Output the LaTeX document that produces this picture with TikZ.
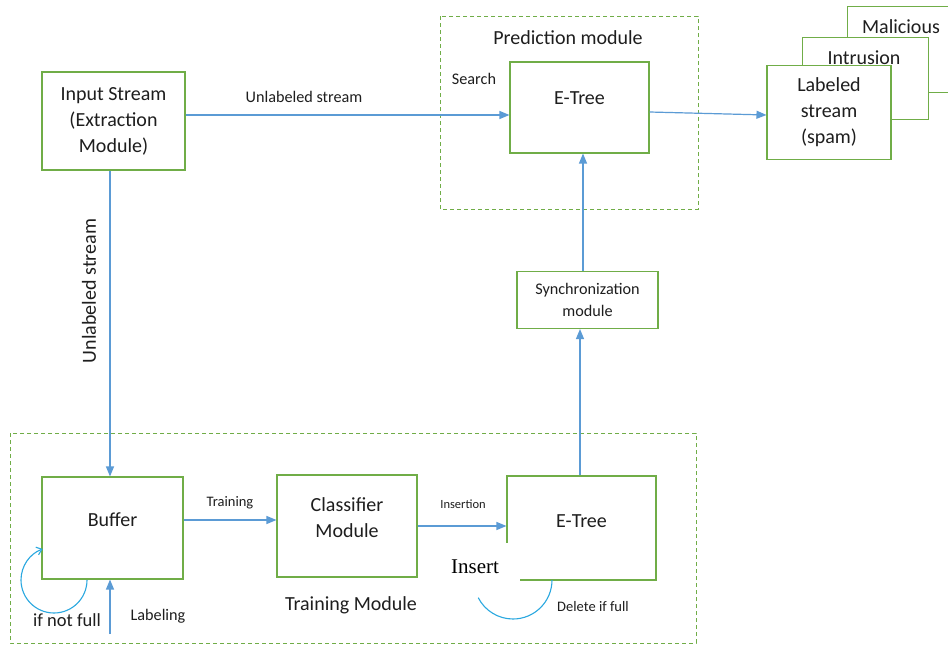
\documentclass[tikz,border=0pt]{standalone}
\usepackage{fontspec}
\setmainfont{Carlito}
\newfontfamily\serifinsert{Liberation Serif}
\usetikzlibrary{arrows.meta}
\definecolor{boxgreen}{HTML}{70AD47}
\definecolor{arrblue}{HTML}{5B9BD5}
\definecolor{loopblue}{HTML}{2AA8E0}
\definecolor{txt}{HTML}{1E1E1E}
\tikzset{
  box/.style={draw=boxgreen, line width=1.1pt, fill=white, align=center, inner sep=0pt, text=txt,
              font=\fontsize{20}{26}\selectfont},
  grp/.style={draw=boxgreen, line width=1pt, dash pattern=on 4pt off 3pt},
  arr/.style={draw=arrblue, line width=1.2pt, -{Triangle[length=10pt,width=8pt]}},
  lbl/.style={text=txt, inner sep=0pt, font=\fontsize{14.5}{18}\selectfont},
  midlbl/.style={text=txt, inner sep=0pt, font=\fontsize{16.2}{20}\selectfont},
  big/.style={text=txt, inner sep=0pt, font=\fontsize{20}{26}\selectfont},
  loopline/.style={draw=loopblue, line width=1.1pt}
}
\begin{document}
\begin{tikzpicture}[x=1pt,y=-1pt]
\useasboundingbox[fill=white] (0,0) rectangle (948,648);

% group frames
\draw[grp] (440,16) rectangle (698,209);
\draw[grp] (10,433) rectangle (696,643);
\node[big] (predlbl) at (568,38) {Prediction module};
\node[big] (trainlbl) at (351,605) {Training Module};

% output stack
\begin{scope}
\clip (0,0) rectangle (948,648);
\node[box, minimum width=160pt, minimum height=86pt, anchor=north west] (mal) at (847,6) {};
\end{scope}
\node[big] (maltxt) at (901,27) {Malicious};
\node[box, minimum width=126pt, minimum height=82pt, anchor=north west] (intr) at (802,37) {};
\node[big] (intrtxt) at (864,58) {Intrusion};
\node[box, minimum width=124pt, minimum height=94pt] (labs) at (829,112.5) {Labeled\\stream\\(spam)};

% main nodes
\node[box, minimum width=143pt, minimum height=98pt] (inp) at (113.5,121) {Input Stream\\(Extraction\\Module)};
\node[box, minimum width=139pt, minimum height=91pt] (etp) at (579.5,107.5) {};
\node[big] (etptxt) at (579.5,98) {E-Tree};
\node[box, minimum width=141pt, minimum height=57pt, font=\fontsize{16.2}{22}\selectfont] (sync) at (587.5,300) {Synchronization\\module};
\node[box, minimum width=141pt, minimum height=102pt] (buf) at (112.5,528) {};
\node[big] (buftxt) at (112.5,520) {Buffer};
\node[box, minimum width=140pt, minimum height=102pt] (cls) at (347,526) {};
\node[big, align=center] (clstxt) at (347,517.5) {Classifier\\Module};
\node[box, minimum width=149pt, minimum height=104pt] (etb) at (581.5,528) {};
\node[big] (etbtxt) at (581.5,521) {E-Tree};

% connectors
\draw[arr] (inp.east |- 0,115) -- (etp.west |- 0,115);
\node[midlbl] (l1) at (304,97) {Unlabeled stream};
\node[midlbl] (l2) at (474,79) {Search};
\draw[arr] (etp.east |- 0,112) -- (labs.west |- 0,115);
\draw[arr] (sync.north -| 583,0) -- (etp.south -| 583,0);
\draw[arr] (etb.north -| 580,0) -- (sync.south -| 580,0);
\draw[arr] (inp.south -| 110,0) -- (buf.north -| 110,0);
\node[big, rotate=90] (l3) at (89,291) {Unlabeled stream};
\draw[arr] (buf.east |- 0,520) -- (cls.west |- 0,520);
\node[lbl] (l4) at (230,503) {Training};
\draw[arr] (cls.east |- 0,526) -- (etb.west |- 0,526);
\node[lbl, font=\fontsize{12.5}{15}\selectfont] (l5) at (463,504) {Insertion};
\coordinate (labsrc) at (110,634);
\draw[arr] (labsrc) -- (buf.south -| labsrc);
\node[midlbl] (l6) at (158,616) {Labeling};

% buffer self loop
\coordinate (bl0) at (87,580);
\draw[loopline, -{Straight Barb[length=5pt,width=8pt]}] (bl0) arc[start angle=0, end angle=250, radius=33];
\node[text=txt, inner sep=0pt, font=\fontsize{18.5}{24}\selectfont] (l7) at (67,620) {if not full};

% E-Tree loop
\node[fill=white, minimum width=90pt, minimum height=48pt, inner sep=0pt] (insbox) at (475,567) {};
\node[text=black, inner sep=0pt, font=\serifinsert\fontsize{21}{24}\selectfont] (ins) at (475,567) {Insert};
\coordinate (el0) at (552,580);
\draw[loopline] (el0) arc[start angle=0, end angle=153, radius=39];
\node[lbl] (l8) at (593,607) {Delete if full};
\end{tikzpicture}
\end{document}
